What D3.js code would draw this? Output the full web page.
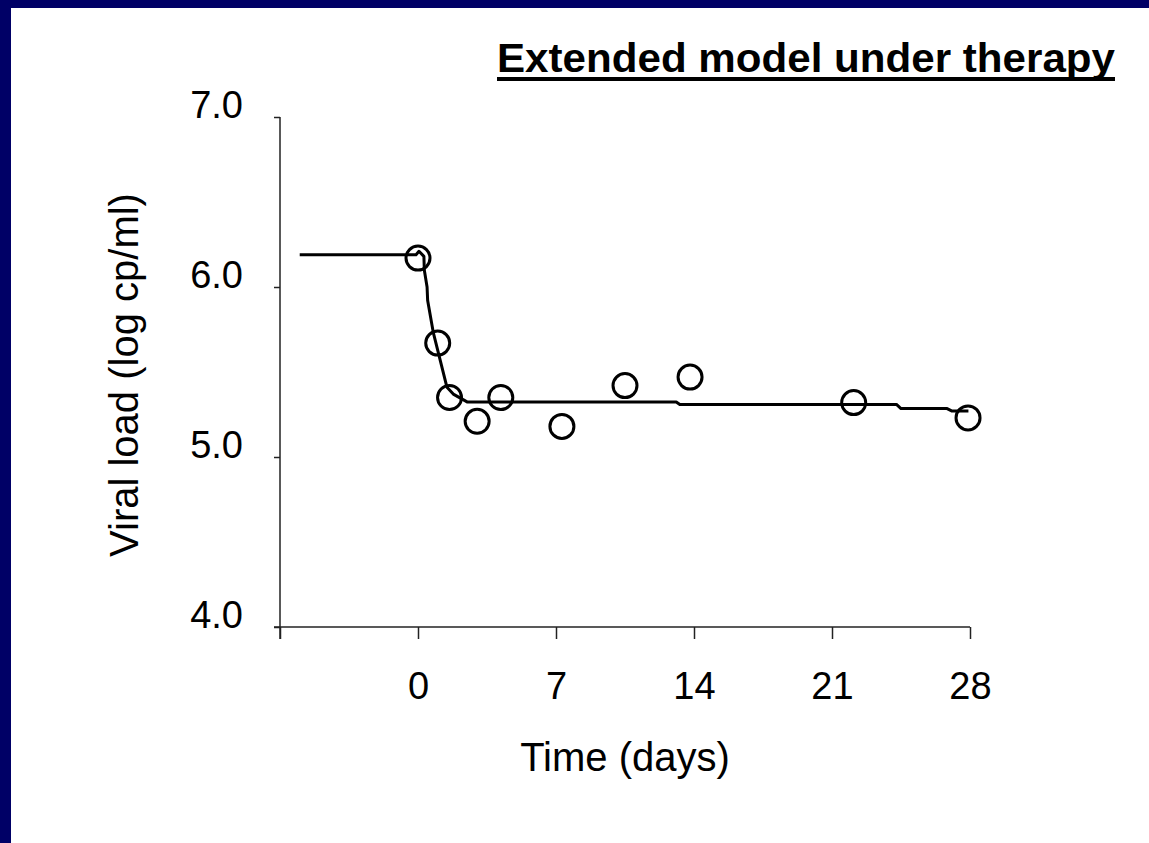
<!DOCTYPE html>
<html>
<head>
<meta charset="utf-8">
<script src="https://cdn.jsdelivr.net/npm/d3@7"></script>
<style>
  html, body { margin: 0; padding: 0; background: #fff; }
  svg { display: block; }
</style>
</head>
<body>
<div id="chart"></div>
<script>
// observed viral load (days, log cp/ml)
const obsDays = [0, 1, 1.6, 3, 4.2, 7.3, 10.5, 13.8, 22.1, 27.9];
const obsLoad = [6.17, 5.67, 5.35, 5.21, 5.35, 5.18, 5.42, 5.47, 5.32, 5.23];

// model curve
const fitDays = [-6, -0.1, 0.05, 0.3, 0.32, 0.46, 0.49, 0.78, 1.47, 1.79, 2.49, 13.1, 13.28, 24.27, 24.5, 26.84, 27.09, 27.92];
const fitLoad = [6.19, 6.19, 6.21, 6.18, 6.10, 6.00, 5.92, 5.73, 5.41, 5.37, 5.324, 5.324, 5.309, 5.309, 5.285, 5.285, 5.27, 5.27];

const xTicks = [-7, 0, 7, 14, 21, 28];
const yTicks = [4, 5, 6, 7];

const width = 1149, height = 843;
const navy = "#000066";

const svg = d3.select("#chart").append("svg")
    .attr("width", width)
    .attr("height", height);

// slide frame
svg.append("rect").attr("x", 0).attr("y", 0).attr("width", width).attr("height", 8).attr("fill", navy);
svg.append("rect").attr("x", 0).attr("y", 0).attr("width", 11).attr("height", height).attr("fill", navy);

const x = d3.scaleLinear().domain([-7, 28]).range([280, 970]);
const y = d3.scaleLinear().domain([4, 7]).range([627, 117]);

const font = "'Liberation Sans', Arial, sans-serif";

// x axis
const xAxis = svg.append("g")
    .attr("transform", `translate(0,${y(4)})`)
    .call(d3.axisBottom(x).tickValues(xTicks).tickSizeInner(12).tickSizeOuter(0)
        .tickFormat(d => d < 0 ? "" : d));
xAxis.select(".domain").attr("stroke", "#222").attr("stroke-width", 1.5)
    .attr("d", `M${x(-7) - 6},0H${x(28)}`);
xAxis.selectAll(".tick line").attr("stroke", "#222").attr("stroke-width", 1.5);
xAxis.selectAll(".tick text")
    .attr("font-family", font).attr("font-size", 38).attr("fill", "#000")
    .attr("dy", null).attr("y", 72);

// y axis
const yAxis = svg.append("g")
    .attr("transform", `translate(${x(-7)},0)`)
    .call(d3.axisLeft(y).tickValues(yTicks).tickSizeInner(6).tickSizeOuter(0)
        .tickFormat(d3.format(".1f")));
yAxis.select(".domain").attr("stroke", "#222").attr("stroke-width", 1.5)
    .attr("d", `M0,${y(7)}V${y(4) + 12}`);
yAxis.selectAll(".tick line").attr("stroke", "#222").attr("stroke-width", 1.5);
yAxis.selectAll(".tick text")
    .attr("font-family", font).attr("font-size", 38).attr("fill", "#000")
    .attr("x", -37).attr("dy", "0.0em");

// model line
const line = d3.line()
    .x((d, i) => x(fitDays[i]))
    .y((d, i) => y(fitLoad[i]));
svg.append("path")
    .attr("d", line(fitDays))
    .attr("fill", "none")
    .attr("stroke", "#000")
    .attr("stroke-width", 3)
    .attr("stroke-linejoin", "round");

// observations
svg.selectAll("circle.obs")
    .data(obsDays)
    .join("circle")
    .attr("class", "obs")
    .attr("cx", d => x(d))
    .attr("cy", (d, i) => y(obsLoad[i]))
    .attr("r", 12)
    .attr("fill", "none")
    .attr("stroke", "#000")
    .attr("stroke-width", 3);

// title
svg.append("text")
    .attr("x", 497).attr("y", 72)
    .attr("font-family", font).attr("font-weight", "bold").attr("font-size", 40)
    .attr("textLength", 618).attr("lengthAdjust", "spacingAndGlyphs")
    .text("Extended model under therapy");
svg.append("rect")
    .attr("x", 497).attr("y", 77).attr("width", 618).attr("height", 4).attr("fill", "#000");

// axis titles
svg.append("text")
    .attr("x", 625).attr("y", 771)
    .attr("text-anchor", "middle")
    .attr("font-family", font).attr("font-size", 40)
    .text("Time (days)");

svg.append("text")
    .attr("transform", "translate(138,375) rotate(-90)")
    .attr("text-anchor", "middle")
    .attr("font-family", font).attr("font-size", 40)
    .text("Viral load (log cp/ml)");
</script>
</body>
</html>
